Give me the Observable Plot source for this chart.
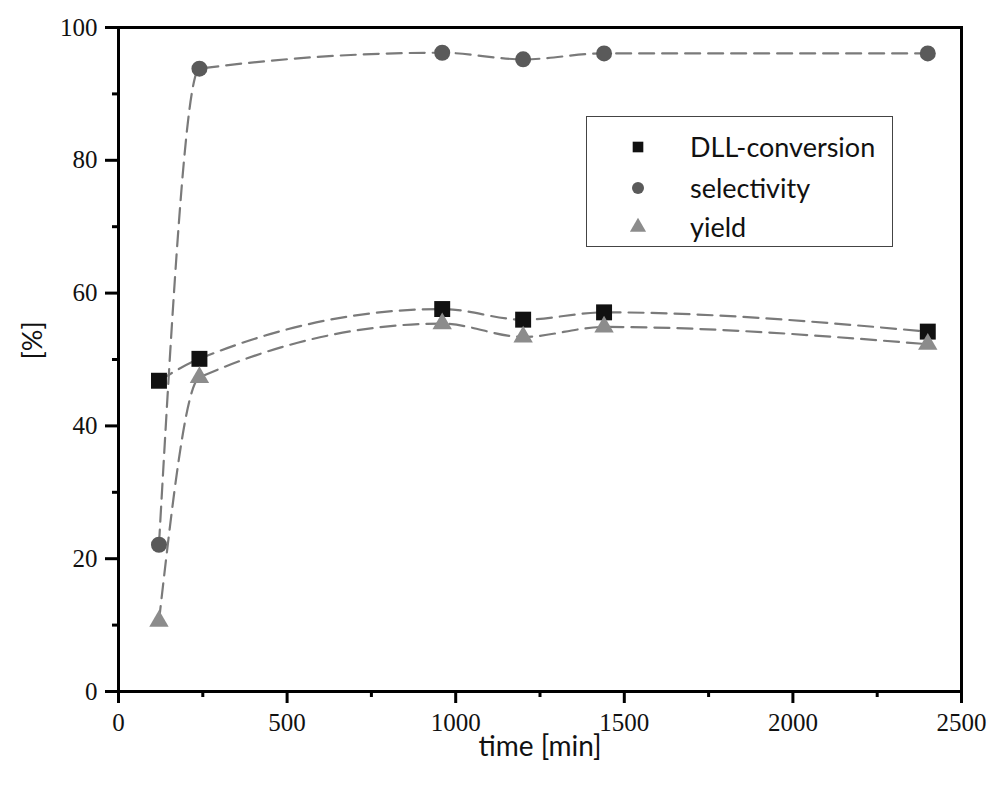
<!DOCTYPE html>
<html>
<head>
<meta charset="utf-8">
<script src="https://cdn.jsdelivr.net/npm/d3@7"></script>
<script src="https://cdn.jsdelivr.net/npm/@observablehq/plot@0.6"></script>
<style>
  html, body { margin: 0; padding: 0; background: #fff; }
  #wrap { position: relative; width: 988px; height: 790px; }
  #legend { position: absolute; left: 586px; top: 116px; width: 307px; height: 131px;
    border: 1.5px solid #444; box-sizing: border-box; font-family: Lato, "Open Sans", sans-serif; font-size: 27px; color: #111; }
  .row { position: absolute; left: 0; display: flex; align-items: center; height: 30px; }
  .row svg { margin-left: 41px; margin-right: 42px; }
</style>
</head>
<body>
<div id="wrap"></div>
<script>
// Data
const times = [120, 240, 960, 1200, 1440, 2400];
const conversion = [46.8, 50.1, 57.6, 56.0, 57.1, 54.2];
const selectivity = [22.1, 93.8, 96.2, 95.2, 96.1, 96.1];
const yieldVals = [10.6, 47.3, 55.4, 53.4, 54.9, 52.3];

const seriesNames = ["DLL-conversion", "selectivity", "yield"];
const seriesValues = [conversion, selectivity, yieldVals];
const seriesSymbols = ["square", "circle", "triangle"];
const seriesColors = ["#111111", "#5a5a5a", "#8c8c8c"];
const seriesR = [9, 8, 7.2];

const xMajor = [0, 500, 1000, 1500, 2000, 2500];
const xMinor = [250, 750, 1250, 1750, 2250];
const yMajor = [0, 20, 40, 60, 80, 100];
const yMinor = [10, 30, 50, 70, 90];

const rows = [];
seriesNames.forEach((name, i) => {
  times.forEach((t, j) => rows.push({series: name, time: t, value: seriesValues[i][j]}));
});

const serif = "'Liberation Serif', 'DejaVu Serif', serif";
const sans = "Lato, 'Open Sans', sans-serif";

const marks = [];
seriesNames.forEach((name, i) => {
  const d = rows.filter(r => r.series === name);
  marks.push(Plot.line(d, {x: "time", y: "value", curve: "monotone-x", stroke: "#7a7a7a",
    strokeWidth: 2.2, strokeDasharray: "15,8"}));
});
seriesNames.forEach((name, i) => {
  const d = rows.filter(r => r.series === name);
  marks.push(Plot.dot(d, {x: "time", y: "value", symbol: () => seriesSymbols[i], r: seriesR[i],
    fill: seriesColors[i], stroke: "none"}));
});

const plot = Plot.plot({
  width: 988,
  height: 790,
  marginLeft: 118,
  marginRight: 27,
  marginTop: 27,
  marginBottom: 99,
  style: {background: "#fff", color: "#000"},
  x: {domain: [0, 2500]},
  y: {domain: [0, 100]},
  marks: [
    Plot.axisX(xMajor, {tickSize: 12, tickPadding: 10, strokeWidth: 3, label: null, tickFormat: d => String(d)}),
    Plot.axisX(xMinor, {tickSize: 6, strokeWidth: 3, tickFormat: () => "", label: null}),
    Plot.axisY(yMajor, {tickSize: 13, tickPadding: 8, strokeWidth: 3, label: null}),
    Plot.axisY(yMinor, {tickSize: 6, strokeWidth: 3, tickFormat: () => "", label: null}),
    ...marks,
    Plot.frame({stroke: "#000", strokeWidth: 3}),
    Plot.text(["time [min]"], {frameAnchor: "bottom", dy: 64, fontSize: 28, fontFamily: sans, fill: "#111"}),
    Plot.text(["[%]"], {frameAnchor: "left", rotate: -90, dx: -85, fontSize: 27, fontFamily: sans, fill: "#111"})
  ]
});
d3.select(plot).selectAll('g[aria-label$="tick label"] text')
  .style("font-size", "25px").style("font-family", serif).style("fill", "#111");
document.getElementById("wrap").appendChild(plot);

// Legend
const legend = document.createElement("div");
legend.id = "legend";
const rowTops = [14, 55, 94];
seriesNames.forEach((name, i) => {
  const row = document.createElement("div");
  row.className = "row";
  row.style.top = rowTops[i] + "px";
  const s = d3.create("svg").attr("width", 20).attr("height", 20);
  const sym = {square: d3.symbolSquare, circle: d3.symbolCircle, triangle: d3.symbolTriangle}[seriesSymbols[i]];
  s.append("path").attr("transform", "translate(10,11)")
    .attr("d", d3.symbol(sym, Math.PI * 6 * 6)()).attr("fill", seriesColors[i]);
  row.appendChild(s.node());
  const span = document.createElement("span");
  span.textContent = name;
  row.appendChild(span);
  legend.appendChild(row);
});
document.getElementById("wrap").appendChild(legend);
</script>
</body>
</html>
